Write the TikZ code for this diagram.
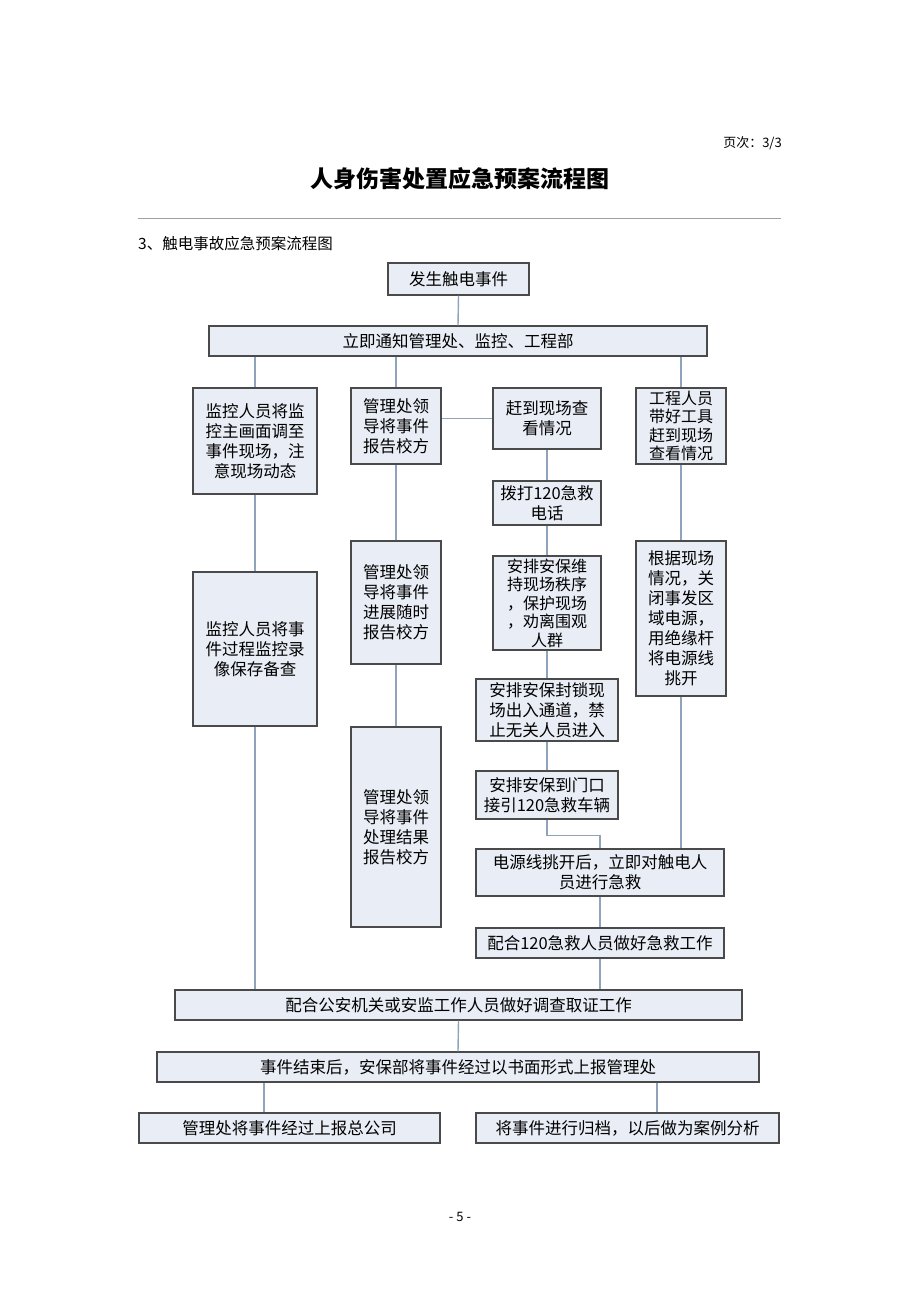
\documentclass[tikz,border=0pt]{standalone}
\usepackage{fontspec}
\setmainfont{Noto Sans CJK SC}
\definecolor{boxfill}{HTML}{E9EDF5}
\definecolor{boxborder}{HTML}{4A4A4A}
\definecolor{connc}{HTML}{8FA3BC}
\definecolor{rulec}{HTML}{A0A0A0}
\begin{document}
\begin{tikzpicture}[x=1pt,y=-1pt,
  box/.style={draw=boxborder, line width=1.4pt, fill=boxfill, align=center, inner sep=0pt,
    font=\fontsize{16.5}{20}\selectfont},
  tightbox/.style={box, font=\fontsize{16}{18.5}\selectfont},
  conn/.style={draw=connc, line width=1.4pt},
  plain/.style={inner sep=0pt, anchor=base}]
\useasboundingbox (0,0) rectangle (920,1302);
% header
\node[plain, anchor=base east, font=\fontsize{13}{15}\selectfont] (pg) at (782,147) {页次：3/3};
\node[plain, anchor=base, font=\fontsize{23}{26}\selectfont\bfseries] (title) at (460,187) {人身伤害处置应急预案流程图};
\coordinate (rl) at (138,218);
\coordinate (rr) at (781,218);
\draw[rulec, line width=1pt] (rl) -- (rr);
\node[plain, anchor=base west, font=\fontsize{15.5}{18}\selectfont] (sub) at (138,249) {3、触电事故应急预案流程图};
% boxes
\node[box, minimum width=141, minimum height=32] (b1) at (458.5,279) {发生触电事件};
\node[box, minimum width=498, minimum height=30] (b2) at (458,341) {立即通知管理处、监控、工程部};
\node[box, minimum width=124, minimum height=106] (c1a) at (255,441) {监控人员将监\\控主画面调至\\事件现场，注\\意现场动态};
\node[box, minimum width=124, minimum height=154] (c1b) at (255,649) {监控人员将事\\件过程监控录\\像保存备查};
\node[box, minimum width=90, minimum height=76] (c2a) at (396,426) {管理处领\\导将事件\\报告校方};
\node[box, minimum width=90, minimum height=123] (c2b) at (396,602.5) {管理处领\\导将事件\\进展随时\\报告校方};
\node[box, minimum width=90, minimum height=200] (c2c) at (396,827) {管理处领\\导将事件\\处理结果\\报告校方};
\node[box, minimum width=108, minimum height=61] (c3a) at (547,418.5) {赶到现场查\\看情况};
\node[box, minimum width=108, minimum height=44] (c3b) at (547,503) {拨打120急救\\电话};
\node[tightbox, minimum width=108, minimum height=94] (c3c) at (547,603) {安排安保维\\持现场秩序\\，保护现场\\，劝离围观\\人群};
\node[box, minimum width=142, minimum height=62] (c3d) at (547,710) {安排安保封锁现\\场出入通道，禁\\止无关人员进入};
\node[box, minimum width=142, minimum height=48] (c3e) at (547,795) {安排安保到门口\\接引120急救车辆};
\node[tightbox, minimum width=90, minimum height=76] (c4a) at (681,426) {工程人员\\带好工具\\赶到现场\\查看情况};
\node[box, minimum width=90, minimum height=155] (c4b) at (681,618.5) {根据现场\\情况，关\\闭事发区\\域电源，\\用绝缘杆\\将电源线\\挑开};
\node[box, minimum width=248, minimum height=47] (e1) at (600,872.5) {电源线挑开后，立即对触电人\\员进行急救};
\node[box, minimum width=248, minimum height=30] (e2) at (600,943) {配合120急救人员做好急救工作};
\node[box, minimum width=567, minimum height=30] (f1) at (458.5,1005) {配合公安机关或安监工作人员做好调查取证工作};
\node[box, minimum width=602, minimum height=30] (f2) at (458,1067) {事件结束后，安保部将事件经过以书面形式上报管理处};
\node[box, minimum width=301, minimum height=30] (g1) at (289.5,1128) {管理处将事件经过上报总公司};
\node[box, minimum width=303, minimum height=30] (g2) at (627.5,1128) {将事件进行归档，以后做为案例分析};
\node[plain, font=\fontsize{13}{15}\selectfont] (pnum) at (460,1221) {- 5 -};
% connectors
\coordinate (gx1) at (264,0);
\coordinate (gx2) at (657,0);
\draw[conn] (b1.south) -- (b2.north);
\draw[conn] (b2.south -| c1a.north) -- (c1a.north);
\draw[conn] (b2.south -| c2a.north) -- (c2a.north);
\draw[conn] (b2.south -| c4a.north) -- (c4a.north);
\draw[conn] (c1a.south) -- (c1b.north);
\draw[conn] (c1b.south) -- (c1b.south |- f1.north);
\draw[conn] (c2a.south) -- (c2b.north);
\draw[conn] (c2b.south) -- (c2c.north);
\draw[conn] (c2a.east |- c3a.west) -- (c3a.west);
\draw[conn] (c3a.south) -- (c3b.north);
\draw[conn] (c3b.south) -- (c3c.north);
\draw[conn] (c3c.south) -- (c3d.north);
\draw[conn] (c3d.south) -- (c3e.north);
\draw[conn] (c3e.south) -- ++(0,16) -| (e1.north);
\draw[conn] (c4a.south) -- (c4b.north);
\draw[conn] (c4b.south) -- (c4b.south |- e1.north);
\draw[conn] (e1.south) -- (e2.north);
\draw[conn] (e2.south) -- (e2.south |- f1.north);
\draw[conn] (f1.south) -- (f2.north);
\draw[conn] (f2.south -| gx1) -- (g1.north -| gx1);
\draw[conn] (f2.south -| gx2) -- (g2.north -| gx2);
\end{tikzpicture}
\end{document}
